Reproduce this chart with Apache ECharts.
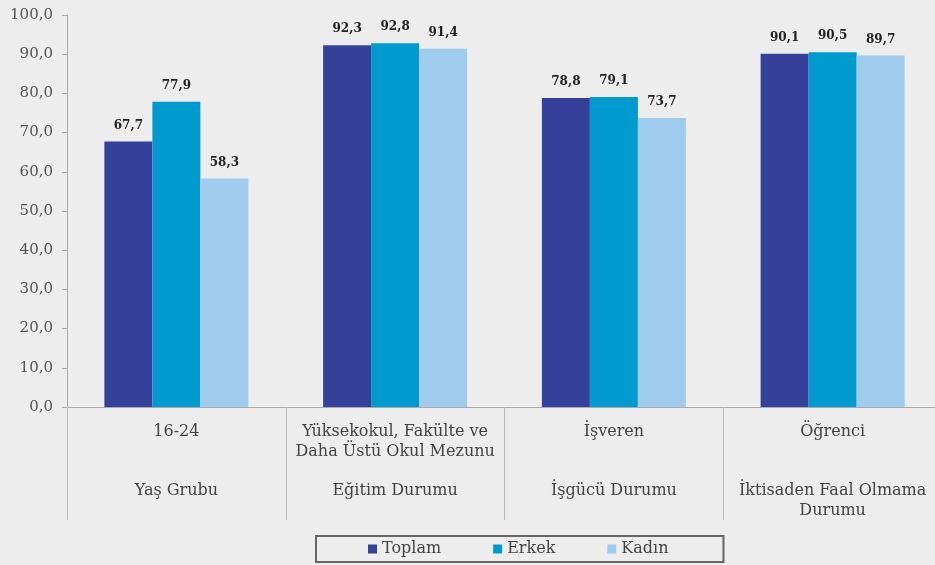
<!DOCTYPE html>
<html>
<head>
<meta charset="utf-8">
<script src="https://cdn.jsdelivr.net/npm/echarts@6/dist/echarts.min.js"></script>
<style>
  html, body { margin: 0; padding: 0; background: #ededed; overflow: hidden; }
  #chart { width: 945px; height: 565px; }
</style>
</head>
<body>
<div id="chart"></div>
<script>
// categories: top label + group label
var categories = ['16-24', 'Yüksekokul, Fakülte ve\nDaha Üstü Okul Mezunu', 'İşveren', 'Öğrenci'];
var groups = ['Yaş Grubu', 'Eğitim Durumu', 'İşgücü Durumu', 'İktisaden Faal Olmama\nDurumu'];

var toplam = [67.7, 92.3, 78.8, 90.1];
var erkek = [77.9, 92.8, 79.1, 90.5];
var kadin = [58.3, 91.4, 73.7, 89.7];

var serif = '"DejaVu Serif", "Liberation Serif", serif';

function fmt(v) {
    return Number(v).toFixed(1).replace('.', ',');
}

var myChart = echarts.init(document.getElementById('chart'));

function barSeries(name, data, color) {
    return {
        name: name,
        type: 'bar',
        data: data,
        barWidth: 48,
        barGap: '0%',
        itemStyle: { color: color },
        label: {
            show: true,
            position: 'top',
            distance: 10,
            formatter: function (p) { return fmt(p.value); },
            fontFamily: serif,
            fontWeight: 'bold',
            fontSize: 12,
            color: '#222'
        }
    };
}

var option = {
    backgroundColor: '#ededed',
    animation: false,
    grid: { left: 67, top: 15, width: 875, height: 392 },
    legend: {
        bottom: 3,
        left: 316,
        data: ['Toplam', 'Erkek', 'Kadın'],
        icon: 'rect',
        itemWidth: 9,
        itemHeight: 9,
        itemGap: 52,
        padding: [5, 55, 5, 52],
        borderColor: '#666',
        borderWidth: 2,
        textStyle: { fontFamily: serif, fontSize: 16, color: '#444' }
    },
    xAxis: [{
        type: 'category',
        data: categories,
        axisLine: { lineStyle: { color: '#aaa' } },
        axisTick: { show: true, length: 113, lineStyle: { color: '#bbb' } },
        axisLabel: {
            interval: 0,
            margin: 15,
            fontFamily: serif,
            fontSize: 16,
            lineHeight: 20,
            color: '#444'
        }
    }, {
        type: 'category',
        data: groups,
        position: 'bottom',
        gridIndex: 0,
        axisLine: { show: false },
        axisTick: { show: false },
        axisLabel: {
            interval: 0,
            margin: 74,
            fontFamily: serif,
            fontSize: 16,
            lineHeight: 20,
            color: '#444'
        }
    }],
    yAxis: {
        type: 'value',
        min: 0,
        max: 100,
        interval: 10,
        splitLine: { show: false },
        axisLine: { show: true, lineStyle: { color: '#aaa' } },
        axisTick: { show: true, length: 5, lineStyle: { color: '#aaa' } },
        axisLabel: {
            margin: 14,
            fontFamily: serif,
            fontSize: 15,
            color: '#555',
            formatter: function (v) { return fmt(v); }
        }
    },
    series: [
        barSeries('Toplam', toplam, '#34409a'),
        barSeries('Erkek', erkek, '#009ace'),
        barSeries('Kadın', kadin, '#9fcbec')
    ]
};

myChart.setOption(option);
</script>
</body>
</html>
